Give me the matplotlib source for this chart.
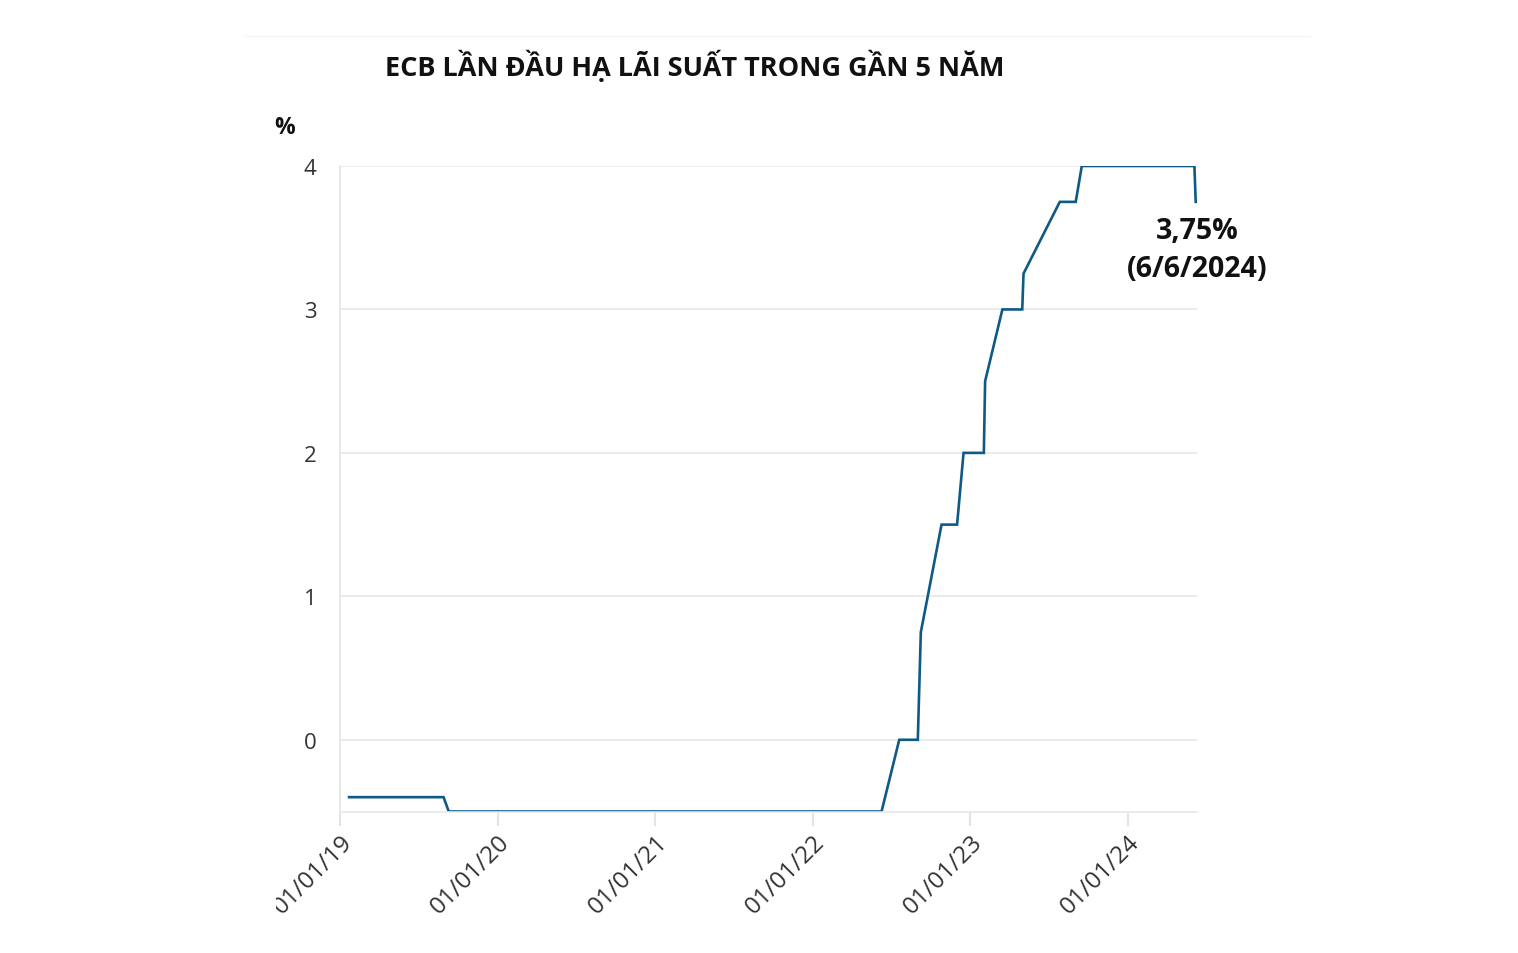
import numpy as np
import pandas as pd
import matplotlib.pyplot as plt
import matplotlib.dates as mdates
from matplotlib.transforms import Bbox

plt.rcParams['font.family'] = ['Open Sans', 'DejaVu Sans']

# ECB deposit rate (%)
dates = ['2019-01-22', '2019-08-29', '2019-09-10', '2022-06-09', '2022-07-20',
         '2022-09-01', '2022-09-08', '2022-10-26', '2022-12-01', '2022-12-16',
         '2023-02-01', '2023-02-04', '2023-03-16', '2023-05-01', '2023-05-04',
         '2023-07-27', '2023-09-02', '2023-09-16', '2024-06-03', '2024-06-06']
rates = [-0.4, -0.4, -0.5, -0.5, 0.0,
         0.0, 0.75, 1.5, 1.5, 2.0,
         2.0, 2.5, 3.0, 3.0, 3.25,
         3.75, 3.75, 4.0, 4.0, 3.75]
x_ticks = ['2019-01-01', '2020-01-01', '2021-01-01', '2022-01-01', '2023-01-01', '2024-01-01']
y_ticks = [0, 1, 2, 3, 4]

title = 'ECB LẦN ĐẦU HẠ LÃI SUẤT TRONG GẦN 5 NĂM'
note = '3,75%\n(6/6/2024)'

dates = pd.to_datetime(dates)
x_ticks = pd.to_datetime(x_ticks)

fig = plt.figure(figsize=(15.18, 9.54), dpi=100)
ax = fig.add_axes([340 / 1518, 1 - 812.5 / 954, 857 / 1518, 645.5 / 954])

ax.plot(dates, rates, color='#0f5a85', linewidth=1.9, solid_joinstyle='miter')

ax.set_xlim(pd.Timestamp('2019-01-01'), pd.Timestamp('2024-06-09'))
ax.set_ylim(-0.5, 4)
ax.set_yticks(y_ticks)
ax.set_xticks(x_ticks)
ax.xaxis.set_major_formatter(mdates.DateFormatter('%d/%m/%y'))

ax.grid(axis='y', color='#e8e8e8', linewidth=1.2)
ax.set_axisbelow(True)
for s in ['top', 'right']:
    ax.spines[s].set_visible(False)
ax.spines['left'].set_color('#e4e4e4')
ax.spines['left'].set_linewidth(1.2)
ax.spines['bottom'].set_color('#e8e8e8')
ax.spines['bottom'].set_linewidth(1.2)

ax.tick_params(axis='y', length=0, pad=17, labelsize=16, labelcolor='#333333')
ax.tick_params(axis='x', length=10, width=1.5, color='#e4e4e4', pad=3,
               labelsize=17.5, labelcolor='#333333')
for lab in ax.get_xticklabels():
    lab.set_rotation(45)
    lab.set_ha('right')
    lab.set_rotation_mode('anchor')
    lab.set_clip_on(True)
    lab.set_clip_box(Bbox([[276, 0], [1518, 954]]))

fig.text(695 / 1518, 1 - 66 / 954, title, ha='center', va='center',
         fontsize=19.5, fontweight='bold', color='#111111')
fig.text(285 / 1518, 1 - 128 / 954, '%', ha='center', va='center',
         fontsize=16.5, fontweight='bold', color='#111111')

ax.annotate(note, xy=(dates[-1], rates[-1]), xytext=(1, -10),
            textcoords='offset points', ha='center', va='top',
            fontsize=20.5, fontweight='bold', color='#111111', linespacing=1.4)

fig.add_artist(plt.Line2D([245 / 1518, 1310 / 1518], [1 - 37 / 954, 1 - 37 / 954],
                          color='#f6f6f6', linewidth=1))

fig.savefig('out.png', dpi=100, facecolor='white')
